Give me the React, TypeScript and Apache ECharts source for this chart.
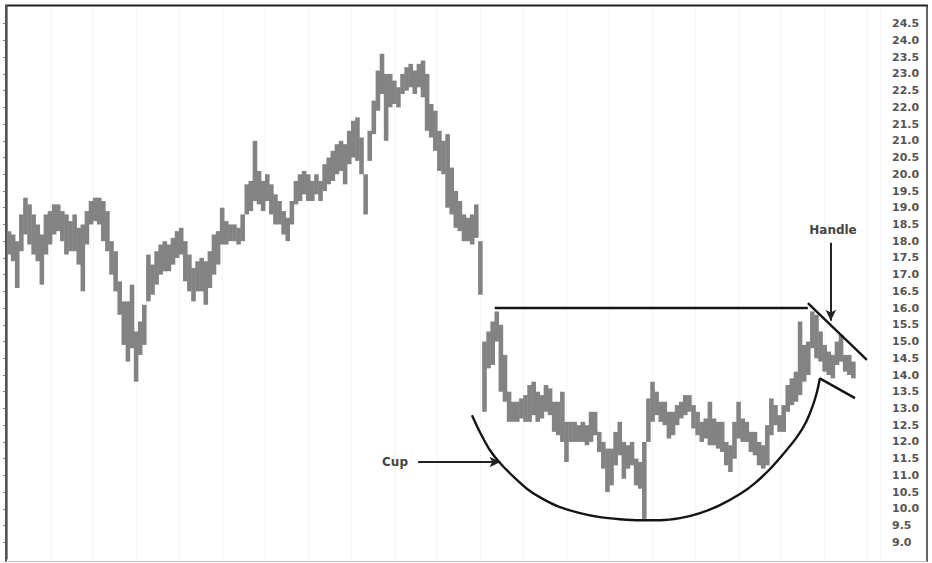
import React, { useEffect, useRef } from "react";
import * as echarts from "echarts";

// Daily price bars (high / low), oldest first
const highs = [
  18.3, 18.2, 18.0, 18.8, 19.3, 19.1, 18.8, 18.5, 18.2, 18.8,
  18.9, 19.1, 19.1, 18.9, 18.8, 18.6, 18.8, 18.4, 18.5, 18.9,
  19.2, 19.3, 19.3, 19.2, 18.9, 18.0, 17.7, 16.8, 16.2, 16.2,
  16.7, 15.3, 15.6, 16.1, 17.6, 17.3, 17.7, 17.9, 18.0, 17.9,
  18.1, 18.3, 18.4, 18.0, 17.6, 17.2, 17.4, 17.5, 17.4, 17.7,
  18.2, 18.3, 19.0, 18.6, 18.5, 18.5, 18.4, 18.8, 19.7, 19.8,
  21.0, 20.1, 19.8, 20.0, 19.7, 19.4, 19.2, 18.9, 18.7, 19.2,
  19.8, 20.0, 20.1, 20.0, 19.8, 20.0, 19.8, 20.3, 20.5, 20.7,
  20.9, 21.0, 20.9, 21.3, 21.6, 21.7, 21.1, 20.0, 21.3, 22.2,
  23.1, 23.6, 23.0, 23.0, 22.8, 22.6, 23.0, 23.2, 23.3, 23.1,
  23.3, 23.4, 23.0, 22.1, 21.9, 21.3, 21.0, 21.2, 20.2, 19.5,
  19.2, 18.8, 18.7, 18.8, 19.1, 18.0, 15.0, 15.3, 15.6, 15.9,
  15.5, 14.6, 13.5, 13.2, 13.2, 13.3, 13.4, 13.7, 13.8, 13.5,
  13.4, 13.7, 13.6, 13.2, 13.2, 13.5, 12.6, 12.6, 12.6, 12.5,
  12.6, 12.5, 12.9, 12.9, 12.3, 12.0, 11.8, 11.8, 12.3, 12.6,
  12.0, 11.9, 12.0, 11.5, 11.4, 12.0, 13.3, 13.8, 13.5, 13.2,
  13.2, 12.9, 12.9, 13.1, 13.2, 13.4, 13.4, 13.1, 12.9, 12.6,
  12.7, 13.2, 12.7, 12.6, 12.6, 12.0, 11.9, 12.6, 13.2, 12.7,
  12.6, 12.3, 12.3, 12.0, 11.9, 12.5, 13.3, 13.1, 12.8, 13.1,
  13.7, 13.9, 14.1, 15.6, 14.9, 15.0, 15.9, 15.8, 15.3, 14.9,
  14.7, 14.6, 15.0, 15.2, 14.6, 14.6, 14.4,
];
const lows = [
  17.6, 17.4, 16.6, 17.7, 18.2, 17.9, 17.6, 17.4, 16.7, 17.6,
  17.9, 18.2, 18.3, 18.0, 17.6, 17.7, 17.7, 17.3, 16.5, 17.9,
  18.5, 18.6, 18.5, 18.0, 17.7, 17.0, 16.5, 15.8, 14.9, 14.4,
  14.8, 13.8, 14.6, 14.9, 16.2, 16.4, 16.7, 17.0, 17.1, 17.1,
  17.3, 17.5, 17.6, 16.8, 16.5, 16.2, 16.5, 16.5, 16.1, 16.6,
  17.0, 17.3, 17.9, 17.9, 18.0, 18.0, 17.9, 18.0, 18.8, 18.9,
  19.2, 19.1, 18.9, 19.2, 18.8, 18.5, 18.5, 18.2, 18.0, 18.5,
  19.1, 19.2, 19.4, 19.2, 19.2, 19.4, 19.2, 19.5, 19.7, 19.8,
  20.0, 20.1, 19.7, 20.3, 20.5, 20.4, 20.0, 18.8, 20.4, 21.2,
  21.9, 22.4, 21.0, 22.0, 22.1, 22.0, 22.4, 22.5, 22.6, 22.4,
  22.6, 22.3, 21.3, 21.1, 20.7, 20.1, 20.0, 19.0, 18.8, 18.4,
  18.3, 18.0, 18.0, 17.9, 18.1, 16.4, 12.9, 14.2, 14.3, 15.0,
  13.5, 13.2, 12.6, 12.6, 12.6, 12.7, 12.6, 12.6, 12.8, 12.6,
  12.7, 12.9, 12.8, 12.3, 12.2, 12.0, 11.4, 12.0, 12.0, 12.0,
  12.0, 11.9, 12.0, 12.2, 11.7, 11.2, 10.5, 10.7, 11.3, 11.6,
  10.9, 11.2, 11.3, 10.7, 10.6, 9.7, 12.0, 12.6, 12.8, 12.6,
  12.5, 12.1, 12.2, 12.5, 12.7, 12.8, 12.9, 12.4, 12.2, 12.0,
  12.1, 11.9, 11.9, 11.8, 11.7, 11.3, 11.1, 11.5, 12.1, 12.0,
  12.0, 11.7, 11.6, 11.3, 11.2, 11.3, 12.2, 12.5, 12.3, 12.3,
  12.9, 13.1, 13.2, 13.4, 13.8, 14.0, 14.8, 14.5, 14.4, 14.1,
  14.0, 13.9, 14.3, 14.4, 14.1, 14.0, 13.9,
];

// Price axis
const yMin = 8.5;
const yMax = 25;
const yStep = 0.5;
const slotCount = 213; // trading-day slots on the time axis

// Annotation geometry in data units (x = day slot, y = price)
const cupCurve = [
  [113.45, 12.8], [115.4, 12.29], [117.84, 11.75], [120.28, 11.37], [123.94, 10.92],
  [127.6, 10.53], [131.26, 10.26], [134.92, 10.05], [139.8, 9.87], [144.68, 9.75],
  [149.56, 9.69], [154.44, 9.66], [159.32, 9.66], [164.2, 9.72], [169.08, 9.87],
  [173.96, 10.11], [178.84, 10.44], [182.5, 10.77], [186.16, 11.19], [189.82, 11.7],
  [192.75, 12.15], [194.94, 12.59], [196.65, 13.1], [197.62, 13.49], [198.36, 13.91],
];
const resistance = [[119.0, 16.0], [195.4, 16.0]];
const handleUpper = [[195.4, 16.15], [209.8, 14.45]];
const handleLower = [[198.3, 13.9], [206.9, 13.31]];
const cupArrow = [[100.3, 11.4], [120.4, 11.4]];
const handleArrow = [[201.0, 17.95], [201.0, 15.62]];

export default function App() {
  const ref = useRef<HTMLDivElement>(null);

  useEffect(() => {
    if (!ref.current) return;
    const chart = echarts.init(ref.current, undefined, { renderer: "svg" });
    const barData = highs.map((h, i) => [i + 0.5, lows[i], h]);
    const line = (pts: number[][]) => [
      { coord: pts[0], symbol: "none" },
      { coord: pts[1], symbol: "none" },
    ];
    const arrow = (pts: number[][]) => [
      { coord: pts[0], symbol: "none", lineStyle: { width: 2, color: "#222" } },
      { coord: pts[1], symbol: "arrow", symbolSize: [8, 11], itemStyle: { color: "#222" } },
    ];

    chart.setOption({
      animation: false,
      backgroundColor: "#ffffff",
      grid: { left: 7, right: 52, top: 7, bottom: 4 },
      xAxis: {
        type: "value",
        min: 0,
        max: slotCount,
        interval: 10.5,
        axisLine: { show: false },
        axisTick: { show: false },
        axisLabel: { show: false },
        splitLine: { show: true, lineStyle: { color: "#f4f4f4", width: 1 } },
      },
      yAxis: {
        type: "value",
        position: "right",
        min: yMin,
        max: yMax,
        interval: yStep,
        axisLine: { show: true, lineStyle: { color: "#8a8a8a", width: 1 } },
        axisTick: { show: true, inside: true, length: 4, lineStyle: { color: "#8a8a8a" } },
        axisLabel: {
          show: true,
          margin: 12,
          showMinLabel: false,
          showMaxLabel: false,
          color: "#555",
          fontSize: 11,
          fontWeight: "bold",
          fontFamily: "DejaVu Sans",
          formatter: (v: number) => v.toFixed(1),
        },
        splitLine: { show: false },
      },
      series: [
        {
          type: "custom",
          silent: true,
          data: barData,
          renderItem: (params: any, api: any) => {
            const x = api.value(0);
            const lo = api.value(1);
            const hi = api.value(2);
            const pHi = api.coord([x, hi]);
            const pLo = api.coord([x, lo]);
            return {
              type: "rect",
              shape: { x: pHi[0] - 2.3, y: pHi[1], width: 4.6, height: Math.max(1, pLo[1] - pHi[1]) },
              style: { fill: "#838383" },
            };
          },
          z: 2,
        },
        {
          type: "line",
          silent: true,
          data: cupCurve,
          smooth: 0.3,
          showSymbol: false,
          symbol: "none",
          lineStyle: { color: "#151515", width: 2.4 },
          z: 5,
          markLine: {
            silent: true,
            animation: false,
            label: { show: false },
            lineStyle: { color: "#151515", width: 2.4, type: "solid" },
            data: [
              line(resistance),
              line(handleUpper),
              line(handleLower),
              arrow(cupArrow),
              arrow(handleArrow),
            ],
          },
        },
      ],
      graphic: [
        { type: "line", shape: { x1: 5, y1: 5.5, x2: 928, y2: 5.5 }, style: { stroke: "#222", lineWidth: 2 }, z: 100 },
        { type: "line", shape: { x1: 6, y1: 5, x2: 6, y2: 562 }, style: { stroke: "#555", lineWidth: 2 }, z: 100 },
        { type: "line", shape: { x1: 927, y1: 5, x2: 927, y2: 562 }, style: { stroke: "#333", lineWidth: 1.5 }, z: 100 },
        { type: "line", shape: { x1: 6, y1: 561.5, x2: 927, y2: 561.5 }, style: { stroke: "#c4c4c4", lineWidth: 1 }, z: 100 },
        {
          type: "text",
          x: 395,
          y: 462,
          style: {
            text: "Cup",
            fill: "#444",
            font: "bold 12px 'DejaVu Sans'",
            align: "center",
            verticalAlign: "middle",
          },
          z: 100,
        },
        {
          type: "text",
          x: 833,
          y: 230,
          style: {
            text: "Handle",
            fill: "#444",
            font: "bold 12px 'DejaVu Sans'",
            align: "center",
            verticalAlign: "middle",
          },
          z: 100,
        },
      ],
    });

    return () => chart.dispose();
  }, []);

  return (
    <div
      ref={ref}
      style={{ position: "fixed", left: 0, top: 0, width: 932, height: 563, background: "#fff" }}
    />
  );
}
